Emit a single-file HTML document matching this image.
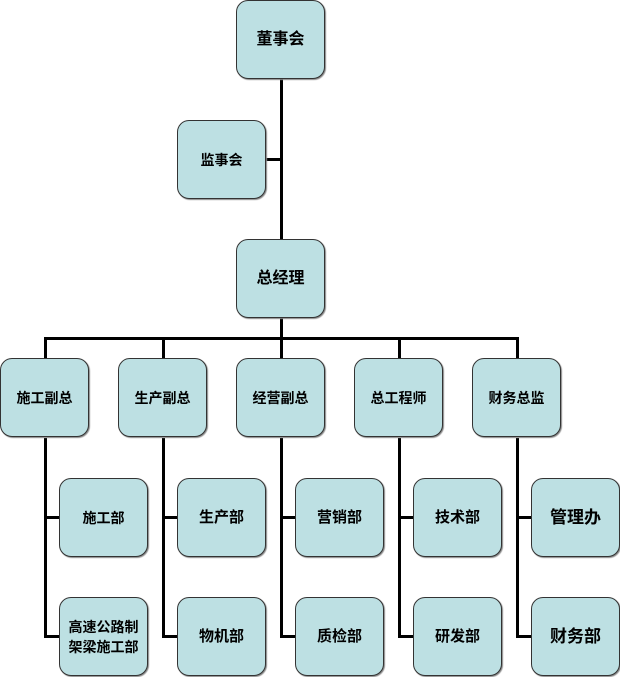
<!DOCTYPE html>
<html><head><meta charset="utf-8"><style>
body{margin:0;width:620px;height:677px;background:#fff;position:relative;overflow:hidden;font-family:"Liberation Sans","Noto Sans CJK SC",sans-serif}
.b{position:absolute;width:87px;height:77px;border:1px solid #333;border-radius:12px;background:#bde0e3;display:flex;align-items:center;justify-content:center;text-align:center;font-size:14px;font-weight:bold;color:#000;line-height:20px;box-shadow:1px 1px 1px #888}
.l{position:absolute;background:#000}
</style></head><body>
<div class="l" style="left:280px;top:79px;width:3px;height:160px"></div>
<div class="l" style="left:266px;top:158px;width:16px;height:3px"></div>
<div class="l" style="left:280px;top:318px;width:3px;height:21px"></div>
<div class="l" style="left:44px;top:337px;width:475px;height:3px"></div>
<div class="l" style="left:44px;top:337px;width:3px;height:21px"></div>
<div class="l" style="left:162px;top:337px;width:3px;height:21px"></div>
<div class="l" style="left:280px;top:337px;width:3px;height:21px"></div>
<div class="l" style="left:398px;top:337px;width:3px;height:21px"></div>
<div class="l" style="left:516px;top:337px;width:3px;height:21px"></div>

<div class="l" style="left:44px;top:438px;width:3px;height:200px"></div>
<div class="l" style="left:44px;top:516px;width:16px;height:3px"></div>
<div class="l" style="left:44px;top:635px;width:16px;height:3px"></div>
<div class="l" style="left:162px;top:438px;width:3px;height:200px"></div>
<div class="l" style="left:162px;top:516px;width:16px;height:3px"></div>
<div class="l" style="left:162px;top:635px;width:16px;height:3px"></div>
<div class="l" style="left:280px;top:438px;width:3px;height:200px"></div>
<div class="l" style="left:280px;top:516px;width:16px;height:3px"></div>
<div class="l" style="left:280px;top:635px;width:16px;height:3px"></div>
<div class="l" style="left:398px;top:438px;width:3px;height:200px"></div>
<div class="l" style="left:398px;top:516px;width:16px;height:3px"></div>
<div class="l" style="left:398px;top:635px;width:16px;height:3px"></div>
<div class="l" style="left:516px;top:438px;width:3px;height:200px"></div>
<div class="l" style="left:516px;top:516px;width:16px;height:3px"></div>
<div class="l" style="left:516px;top:635px;width:16px;height:3px"></div>

<div class="b" style="left:236px;top:0px;font-size:16px">董事会</div>
<div class="b" style="left:177px;top:120px">监事会</div>
<div class="b" style="left:236px;top:239px;font-size:16px">总经理</div>

<div class="b" style="left:0px;top:358px">施工副总</div>
<div class="b" style="left:118px;top:358px">生产副总</div>
<div class="b" style="left:236px;top:358px">经营副总</div>
<div class="b" style="left:354px;top:358px">总工程师</div>
<div class="b" style="left:472px;top:358px">财务总监</div>

<div class="b" style="left:59px;top:478px">施工部</div>
<div class="b" style="left:59px;top:597px">高速公路制<br>架梁施工部</div>
<div class="b" style="left:177px;top:478px;font-size:15px">生产部</div>
<div class="b" style="left:177px;top:597px;font-size:15px">物机部</div>
<div class="b" style="left:295px;top:478px;font-size:15px">营销部</div>
<div class="b" style="left:295px;top:597px;font-size:15px">质检部</div>
<div class="b" style="left:413px;top:478px;font-size:15px">技术部</div>
<div class="b" style="left:413px;top:597px;font-size:15px">研发部</div>
<div class="b" style="left:531px;top:478px;font-size:17px">管理办</div>
<div class="b" style="left:531px;top:597px;font-size:17px">财务部</div>
</body></html>
